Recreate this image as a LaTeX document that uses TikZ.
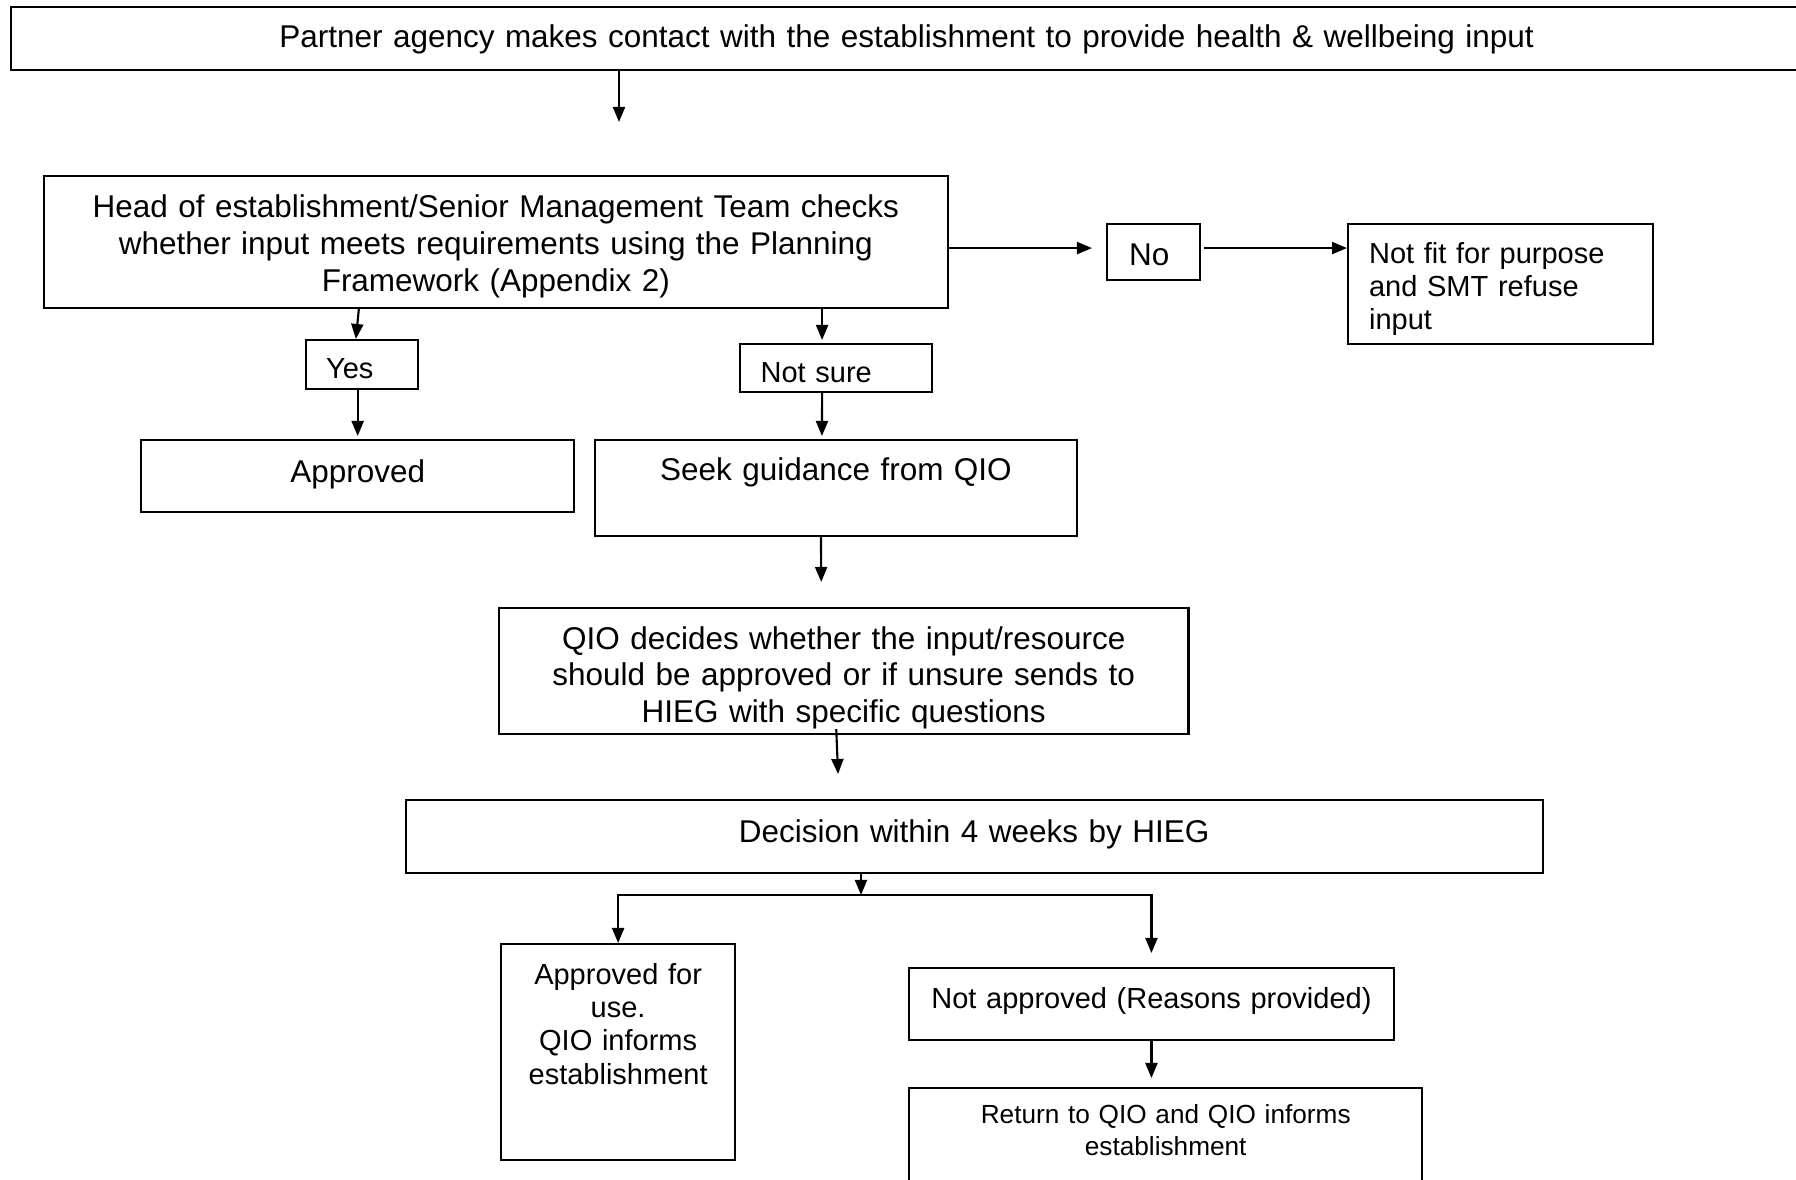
\documentclass[tikz,border=0pt]{standalone}
\usepackage{fontspec}
\setmainfont{Liberation Sans}
\usepackage{tikz}
\usetikzlibrary{arrows.meta}
\tikzstyle{process} = [rectangle, 
draw=black, 
line width=0.6pt, 
inner sep=0pt, 
anchor=north west, 
align=center, 
font=\fontsize{8.95}{10.5}\selectfont]
\tikzstyle{smallbox} = [process, 
font=\fontsize{8.25}{9.5}\selectfont]
\tikzstyle{answer} = [smallbox, 
align=left, 
inner xsep=0.2cm]
\tikzstyle{notebox} = [process, 
font=\fontsize{7.45}{9}\selectfont]
\tikzstyle{arrow} = [line width=0.6pt,-{Triangle[length=0.15cm,width=0.12cm]}]

\begin{document}
\begin{tikzpicture}[x=0.01cm,y=-0.01cm]
\useasboundingbox (0,0) rectangle (1796,1180);

\node (partner) [process, text width=17.90cm, text height=0.405cm, text depth=0.225cm] at (10,6) {Partner agency makes contact with the establishment to provide health \& wellbeing input};
\node (head) [process, text width=9.03cm, text height=0.415cm, text depth=0.905cm] at (43,175) {Head of establishment/Senior Management Team checks\\
whether input meets requirements using the Planning\\
Framework (Appendix 2)};
\node (no) [answer, font=\fontsize{8.95}{10.5}\selectfont, inner xsep=0.22cm, text width=0.49cm, text height=0.41cm, text depth=0.15cm] at (1106,223) {No};
\node (notfit) [answer, inner xsep=0.21cm, text width=2.63cm, text height=0.39cm, text depth=0.81cm] at (1347,223) {Not fit for purpose\\
and SMT refuse\\
input};
\node (yes) [answer, text width=0.715cm, text height=0.38cm, text depth=0.11cm] at (305,339) {Yes};
\node (approved) [process, text width=4.33cm, text height=0.425cm, text depth=0.295cm] at (140,439) {Approved};
\node (notsure) [answer, inner xsep=0.205cm, text width=1.51cm, text height=0.38cm, text depth=0.10cm] at (739,343) {Not sure};
\node (seek) [process, text width=4.815cm, text height=0.405cm, text depth=0.555cm] at (594,439) {Seek guidance from QIO};
\node (qio) [process, text width=6.89cm, text height=0.41cm, text depth=0.85cm] at (498,607) {QIO decides whether the input/resource\\
should be approved or if unsure sends to\\
HIEG with specific questions};
\node (decision) [process, text width=11.365cm, text height=0.425cm, text depth=0.305cm] at (404.5,799) {Decision within 4 weeks by HIEG};
\node (appuse) [smallbox, text width=2.34cm, text height=0.40cm, text depth=1.76cm] at (500,943) {Approved for\\
use.\\
QIO informs\\
establishment};
\node (notapp) [smallbox, text width=4.845cm, text height=0.40cm, text depth=0.32cm] at (908,967) {Not approved (Reasons provided)};
\node (return) [notebox, text width=5.13cm, text height=0.356cm, text depth=0.634cm] at (908,1087) {Return to QIO and QIO informs\\
establishment};

% free ends and the split point
\coordinate (intake) at (619,122);
\coordinate (split) at (861,895);

\draw [arrow] (partner.south -| intake) -- (intake);
\draw [arrow] ([yshift=0.04cm]no.west -| head.east) -- ([xshift=-0.14cm,yshift=0.04cm]no.west);
\draw [arrow] ([xshift=0.03cm,yshift=0.04cm]no.east) -- ([yshift=0.04cm]no.east -| notfit.west);
\draw [arrow] ([xshift=-0.03cm]yes.north |- head.south) -- ([xshift=-0.06cm]yes.north);
\draw [arrow] (yes.south -| approved.north) -- ([yshift=0.03cm]approved.north);
\draw [arrow] ([xshift=-0.14cm]notsure.north |- head.south) -- ([xshift=-0.14cm,yshift=0.03cm]notsure.north);
\draw [arrow] ([xshift=-0.14cm]notsure.south) -- ([xshift=-0.14cm,yshift=0.03cm]seek.north);
\draw [arrow] ([xshift=-0.15cm]seek.south) -- ([xshift=-0.225cm,yshift=0.25cm]qio.north);
\draw [arrow] ([xshift=-0.075cm,yshift=0.06cm]qio.south) -- ([xshift=-1.36cm,yshift=0.25cm]decision.north);

% Decision splits into the two outcomes
\draw [arrow] (decision.south -| split) -- (split);
\draw [arrow] (split) -| (appuse.north);
\draw [arrow] (split) -| ([yshift=0.14cm]notapp.north);
\draw [arrow] (notapp.south) -- ([yshift=0.09cm]notapp.south |- return.north);

\end{tikzpicture}
\end{document}
